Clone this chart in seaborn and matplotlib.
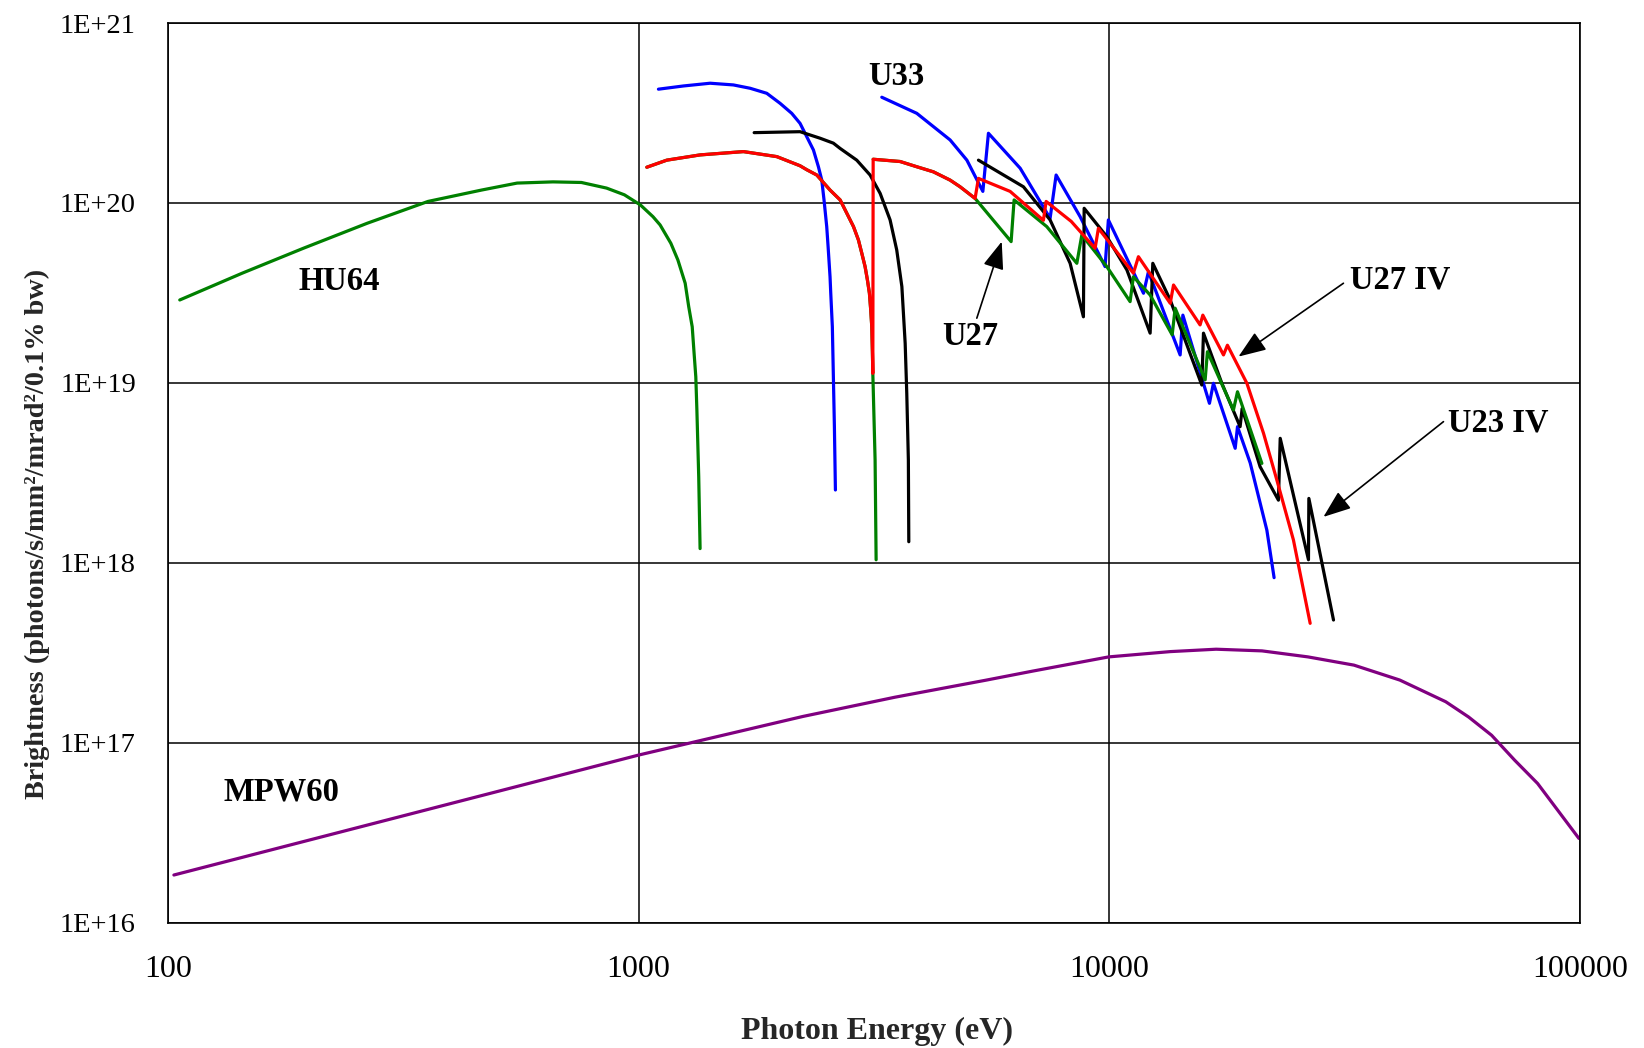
import numpy as np
import pandas as pd
import matplotlib
matplotlib.use("Agg")
import matplotlib.pyplot as plt
import seaborn as sns
from matplotlib.ticker import LogLocator, NullFormatter, FixedLocator

# ---------------- data (photon energy in eV, brightness) ----------------
# HU64 (soft x-ray undulator, first harmonic)
hu64_energy = [106, 143.8, 194, 265, 357, 464, 552, 658, 756, 855, 933, 1009, 1073, 1111,
               1171, 1212, 1256, 1278, 1300, 1312, 1323, 1330, 1342, 1351]
hu64_bright = [2.89e19, 4.07e19, 5.6e19, 7.71e19, 1.02e20, 1.18e20, 1.29e20, 1.31e20,
               1.30e20, 1.21e20, 1.11e20, 9.75e19, 8.39e19, 7.55e19, 5.97e19, 4.82e19,
               3.58e19, 2.65e19, 2.05e19, 1.46e19, 1.08e19, 7.07e18, 3.01e18, 1.2e18]

# MPW60 multipole wiggler
mpw60_energy = [103, 324, 1000, 2234, 3501, 5484, 6868, 9970, 13470, 16860, 21100,
                26420, 33090, 41410, 51840, 57980, 64890, 72620, 81240, 99430]
mpw60_bright = [1.84e16, 3.99e16, 8.54e16, 1.4e17, 1.79e17, 2.23e17, 2.5e17,
                3.0e17, 3.21e17, 3.31e17, 3.24e17, 3.0e17, 2.7e17, 2.23e17, 1.69e17,
                1.39e17, 1.1e17, 8.0e16, 5.94e16, 2.94e16]

# U33: first harmonic, then higher harmonics
u33_h1_energy = [1102, 1245, 1419, 1590, 1726, 1872, 1998, 2115, 2203, 2352, 2410, 2450,
                 2477, 2510, 2527, 2551, 2560, 2580, 2593, 2606, 2619]
u33_h1_bright = [4.29e20, 4.47e20, 4.63e20, 4.53e20, 4.34e20, 4.07e20, 3.58e20, 3.15e20,
                 2.77e20, 1.97e20, 1.59e20, 1.34e20, 1.04e20, 7.39e19, 5.71e19, 3.89e19,
                 3.15e19, 2.05e19, 1.08e19, 5.71e18, 2.54e18]
u33_hn_energy = [3286, 3899, 4590, 4982, 5387, 5536, 6466, 7485, 7709, 8670, 9795, 9954,
                 11820, 12110, 14140, 14330, 16320, 16640, 18510, 18720, 19920, 21610, 22390]
u33_hn_bright = [3.87e20, 3.15e20, 2.24e20, 1.73e20, 1.16e20, 2.44e20, 1.56e20, 8.22e19,
                 1.43e20, 8.39e19, 4.43e19, 8.05e19, 3.15e19, 4.15e19, 1.43e19, 2.38e19,
                 7.7e18, 9.95e18, 4.33e18, 5.71e18, 3.59e18, 1.52e18, 8.27e17]

# U23 IV (in-vacuum)
u23iv_h1_energy = [1760, 2203, 2430, 2593, 2680, 2907, 3103, 3260, 3422, 3535, 3625, 3684,
                   3713, 3742, 3750]
u23iv_h1_bright = [2.46e20, 2.49e20, 2.29e20, 2.15e20, 2.01e20, 1.73e20, 1.43e20, 1.13e20,
                   8.05e19, 5.48e19, 3.43e19, 1.66e19, 8.75e18, 3.73e18, 1.31e18]
u23iv_hn_energy = [5272, 6571, 7485, 8256, 8810, 8842, 9879, 10900, 12210, 12370, 13470,
                   15720, 15850, 17340, 18960, 19150, 20910, 22870, 23070, 26490, 26540, 29940]
u23iv_hn_bright = [1.73e20, 1.23e20, 8.05e19, 4.62e19, 2.33e19, 9.34e19, 6.5e19, 4.24e19,
                   1.89e19, 4.62e19, 2.89e19, 9.73e18, 1.89e19, 9.95e18, 5.71e18, 7.2e18,
                   3.42e18, 2.23e18, 4.92e18, 1.04e18, 2.28e18, 4.81e17]

# U27 / U27 IV share the first harmonic and the start of the third
u27_h1_energy = [1041, 1148, 1351, 1670, 1966, 2203, 2277, 2391, 2551, 2680, 2769, 2861,
                 2931, 2980, 3028, 3063, 3093, 3113, 3129, 3138, 3145]
u27_h1_bright = [1.58e20, 1.73e20, 1.85e20, 1.93e20, 1.81e20, 1.61e20, 1.53e20, 1.43e20,
                 1.18e20, 1.04e20, 8.77e19, 7.39e19, 6.23e19, 5.25e19, 4.43e19, 3.73e19,
                 3.15e19, 2.54e19, 2.05e19, 1.52e19, 1.13e19]
u27_h1_tail_energy = [3180, 3196]
u27_h1_tail_bright = [3.73e18, 1.04e18]
u27_h3_energy = [3150, 3594, 3899, 4229, 4590, 4820, 5186]
u27_h3_bright = [1.75e20, 1.70e20, 1.59e20, 1.49e20, 1.34e20, 1.23e20, 1.06e20]

# U27 higher harmonics
u27_hn_energy = [6186, 6277, 7364, 8531, 8742, 9879, 11070, 11250, 12210, 13600, 13800,
                 15980, 16160, 18350, 18720, 21090]
u27_hn_bright = [6.1e19, 1.04e20, 7.39e19, 4.62e19, 6.64e19, 4.43e19, 2.83e19, 3.89e19,
                 3.08e19, 1.85e19, 2.6e19, 1.04e19, 1.49e19, 7.07e18, 8.93e18, 3.57e18]

# U27 IV higher harmonics
u27iv_hn_energy = [5272, 6155, 7244, 7341, 8300, 9328, 9480, 11250, 11530, 13470, 13690,
                   15590, 15800, 17480, 17820, 19600, 21260, 22690, 24610, 26710]
u27iv_hn_bright = [1.37e20, 1.16e20, 8.01e19, 1.02e20, 7.9e19, 5.6e19, 7.23e19, 4.07e19,
                   5.03e19, 2.77e19, 3.5e19, 2.10e19, 2.38e19, 1.43e19, 1.62e19, 9.95e18,
                   5.25e18, 2.89e18, 1.34e18, 4.61e17]

x_ticks = [100, 1000, 10000, 100000]
x_tick_labels = ["100", "1000", "10000", "100000"]
y_ticks = [1e16, 1e17, 1e18, 1e19, 1e20, 1e21]
y_tick_labels = ["1E+16", "1E+17", "1E+18", "1E+19", "1E+20", "1E+21"]


def segments(*pairs):
    """Stack (energy, brightness) pieces; each piece is drawn as its own unbroken line."""
    frames = []
    for i, (e, b) in enumerate(pairs):
        frames.append(pd.DataFrame({"energy": e, "brightness": b, "segment": i}))
    return pd.concat(frames, ignore_index=True)


curves = [
    ("HU64", segments((hu64_energy, hu64_bright)), "#008000"),
    ("MPW60", segments((mpw60_energy, mpw60_bright)), "#800080"),
    ("U33", segments((u33_h1_energy, u33_h1_bright),
                     (u33_hn_energy, u33_hn_bright)), "#0000FF"),
    ("U23 IV", segments((u23iv_h1_energy, u23iv_h1_bright),
                        (u23iv_hn_energy, u23iv_hn_bright)), "#000000"),
    ("U27", segments((u27_h1_energy + u27_h1_tail_energy, u27_h1_bright + u27_h1_tail_bright),
                     (u27_h3_energy + u27_hn_energy, u27_h3_bright + u27_hn_bright)), "#008000"),
    ("U27 IV", segments((u27_h1_energy + u27_h3_energy + u27iv_hn_energy,
                         u27_h1_bright + u27_h3_bright + u27iv_hn_bright)), "#FF0000"),
]

# ---------------- figure ----------------
sns.set_style("white")
plt.rcParams["font.family"] = ["Liberation Serif", "DejaVu Serif"]

fig = plt.figure(figsize=(16.44, 10.48), dpi=100)
ax = fig.add_axes([0.1021, 0.1196, 0.8590, 0.8584])

for name, df, color in curves:
    sns.lineplot(data=df, x="energy", y="brightness", units="segment", estimator=None,
                 sort=False, color=color, linewidth=2.3, ax=ax, legend=False)

ax.set_xscale("log")
ax.set_yscale("log")
ax.set_xlim(100, 100000)
ax.set_ylim(1e16, 1e21)

ax.xaxis.set_major_locator(FixedLocator(x_ticks))
ax.set_xticklabels(x_tick_labels)
ax.yaxis.set_major_locator(FixedLocator(y_ticks))
ax.set_yticklabels(y_tick_labels)
ax.xaxis.set_minor_locator(LogLocator(base=10, subs=np.arange(2, 10)))
ax.yaxis.set_minor_locator(LogLocator(base=10, subs=np.arange(2, 10)))
ax.xaxis.set_minor_formatter(NullFormatter())
ax.yaxis.set_minor_formatter(NullFormatter())

ax.grid(True, which="major", color="black", linewidth=1.1)
ax.grid(False, which="minor")
for sp in ax.spines.values():
    sp.set_color("black")
    sp.set_linewidth(1.2)

ax.tick_params(axis="both", which="major", direction="out", length=10, width=1.2,
               color="black", labelcolor="black")
ax.tick_params(axis="both", which="minor", direction="out", length=7, width=1.0, color="black")
ax.tick_params(axis="x", which="major", labelsize=23, pad=13)
ax.tick_params(axis="y", which="major", labelsize=20.5, pad=13)

ax.set_xlabel("Photon Energy (eV)", fontsize=23, fontweight="bold", va="center")
ax.xaxis.set_label_coords(0.502, -0.1204)
ax.set_ylabel("Brightness (photons/s/mm²/mrad²/0.1% bw)", fontsize=20.3,
              fontweight="bold", va="center")
ax.yaxis.set_label_coords(-0.0926, 0.432)

# curve labels
lab = dict(fontsize=23.5, fontweight="bold", color="black")
ax.text(231, 3.68e19, "HU64", ha="center", va="center", **lab)
ax.text(3533, 5.05e20, "U33", ha="center", va="center", **lab)
ax.text(174, 5.35e16, "MPW60", ha="center", va="center", **lab)

arrow = dict(arrowstyle="-|>,head_length=1.0,head_width=0.38", mutation_scale=17,
             color="black", lw=1.2, shrinkA=0, shrinkB=0)
ax.annotate("", xy=(5908, 6.1e19), xytext=(5230, 2.29e19), arrowprops=arrow)
ax.text(5061, 1.81e19, "U27", ha="center", va="center", **lab)

ax.annotate("", xy=(18810, 1.40e19), xytext=(31430, 3.58e19), arrowprops=arrow)
ax.text(32510, 3.73e19, "U27 IV", ha="left", va="center", **lab)

ax.annotate("", xy=(28500, 1.80e18), xytext=(51270, 6.09e18), arrowprops=arrow)
ax.text(52460, 5.99e18, "U23 IV", ha="left", va="center", **lab)

fig.savefig("out.png", dpi=100, facecolor="white")
